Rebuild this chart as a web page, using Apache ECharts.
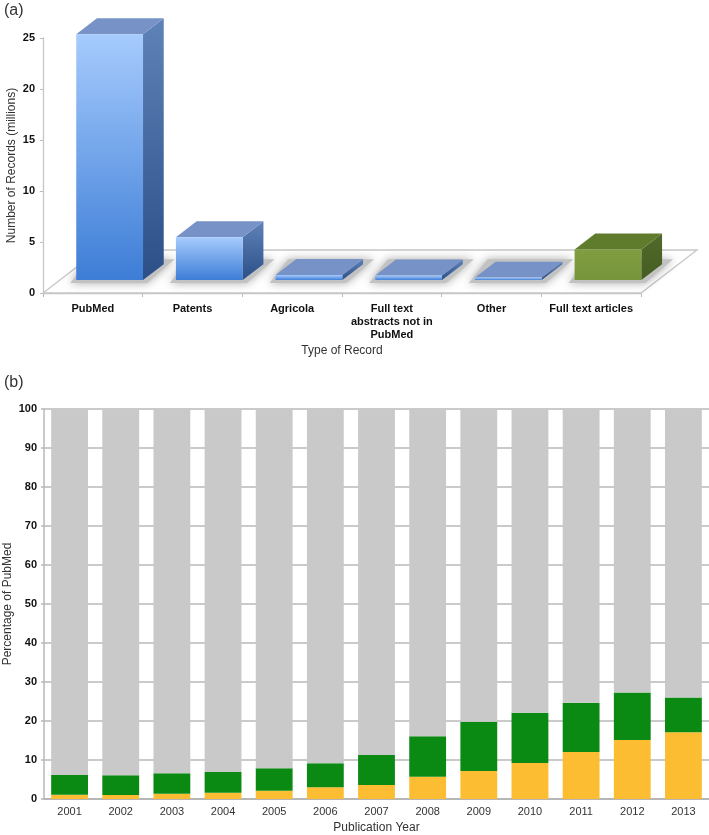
<!DOCTYPE html>
<html><head><meta charset="utf-8">
<script src="https://cdn.jsdelivr.net/npm/echarts@6/dist/echarts.min.js"></script>
<style>html,body{margin:0;padding:0;background:#fff}#c{width:709px;height:835px}</style>
</head><body><div id="c"></div>
<script>
// ---- Panel (a) data ----
const recordTypes = ['PubMed', 'Patents', 'Agricola', 'Full text\nabstracts not in\nPubMed', 'Other', 'Full text articles'];
const recordCounts = [24.1, 4.2, 0.5, 0.45, 0.25, 3.0]; // millions
const recordTicks = [0, 5, 10, 15, 20, 25];

// ---- Panel (b) data ----
const years = ['2001','2002','2003','2004','2005','2006','2007','2008','2009','2010','2011','2012','2013'];
const fullTextPct = [1.1, 1.0, 1.35, 1.6, 2.1, 3.0, 3.6, 5.7, 7.2, 9.2, 12.05, 15.1, 17.1];   // yellow
const abstractPct = [5.05, 5.1, 5.25, 5.3, 5.8, 6.15, 7.7, 10.4, 12.6, 12.9, 12.65, 12.2, 8.9]; // green
const restPct = [93.85, 93.9, 93.4, 93.1, 92.1, 90.85, 88.7, 83.9, 80.2, 77.9, 75.3, 72.7, 74.0]; // gray
const pctTicks = [0,10,20,30,40,50,60,70,80,90,100];

const FONT = '"Liberation Sans", Arial, Helvetica, sans-serif';
const chart = echarts.init(document.getElementById('c'), null, {renderer: 'canvas'});

// 3D geometry (floor depth vector and bar depth range)
const DX = 56, DY = -43, D0 = 0.3, D1 = 0.67;
const blue = {front: ['#a6cbfd', '#3d7dd6'], side: ['#5f82b9', '#2c4f88'], top: '#7692c6'};
const green = {front: ['#809e40', '#76943a'], side: ['#51692a', '#465d22'], top: '#5f7c2d'};

function grad(c) {
  return new echarts.graphic.LinearGradient(0, 0, 0, 1, [{offset: 0, color: c[0]}, {offset: 1, color: c[1]}]);
}

function barGeom(api) {
  const i = api.value(0), v = api.value(1);
  const base = api.coord([i, 0]);
  const top = api.coord([i, v]);
  const bw = api.size([1, 0])[0] * 0.67;
  const ox = D0 * DX, oy = D0 * DY;
  return {
    i: i,
    x0: base[0] - bw / 2 + ox, x1: base[0] + bw / 2 + ox,
    yb: base[1] + oy, yt: top[1] + oy,
    ddx: (D1 - D0) * DX, ddy: (D1 - D0) * DY
  };
}

function renderFloor(params, api) {
  const cs = params.coordSys;
  const x = cs.x, y = cs.y + cs.height, w = cs.width;
  return {
    type: 'polygon',
    shape: {points: [[x, y], [x + w, y], [x + w + DX, y + DY], [x + DX, y + DY]]},
    style: {fill: '#fff', stroke: '#c6c6c6', lineWidth: 1.3}
  };
}

function renderShadow(params, api) {
  const g = barGeom(api);
  const {x0, x1, yb, ddx, ddy} = g;
  return {
    type: 'polygon',
    shape: {points: [
      [x0 - 6, yb + 3], [x1 + 4, yb + 3],
      [x1 + ddx + 11, yb + ddy - 5], [x0 + ddx - 8, yb + ddy - 5]
    ]},
    style: {fill: '#c2c2c2', shadowBlur: 10, shadowColor: 'rgba(0,0,0,0.35)'}
  };
}

function renderBar(params, api) {
  const g = barGeom(api);
  const {x0, x1, yb, yt, ddx, ddy} = g;
  const pal = recordTypes[g.i] === 'Full text articles' ? green : blue;
  return {
    type: 'group',
    children: [
      {type: 'polygon', z2: 2,
        shape: {points: [[x1, yt], [x1 + ddx, yt + ddy], [x1 + ddx, yb + ddy], [x1, yb]]},
        style: {fill: grad(pal.side)}},
      {type: 'polygon', z2: 3,
        shape: {points: [[x0, yt], [x1, yt], [x1 + ddx, yt + ddy], [x0 + ddx, yt + ddy]]},
        style: {fill: pal.top}},
      {type: 'rect', z2: 4,
        shape: {x: x0, y: yt, width: x1 - x0, height: Math.max(yb - yt, 1.5)},
        style: {fill: grad(pal.front)}}
    ]
  };
}

const option = {
  animation: false,
  backgroundColor: '#fff',
  textStyle: {fontFamily: FONT},
  title: [
    {text: '(a)', left: -1, top: -2, textStyle: {fontFamily: FONT, fontSize: 16, fontWeight: 'normal', color: '#333'}},
    {text: '(b)', left: -1, top: 370, textStyle: {fontFamily: FONT, fontSize: 16, fontWeight: 'normal', color: '#333'}}
  ],
  grid: [
    {left: 43, top: 38, width: 598, height: 255, outerBoundsMode: 'none', containLabel: false},
    {left: 44, top: 409, width: 665, height: 390, outerBoundsMode: 'none', containLabel: false}
  ],
  xAxis: [
    {
      type: 'category', gridIndex: 0, data: recordTypes,
      name: 'Type of Record', nameLocation: 'middle', nameGap: 52, nameMoveOverlap: false,
      nameTextStyle: {fontFamily: FONT, fontSize: 12, color: '#333'},
      axisLine: {lineStyle: {color: '#c6c6c6', width: 1.3}},
      axisTick: {show: true, length: 4, lineStyle: {color: '#bdbdbd'}},
      axisLabel: {fontFamily: FONT, fontSize: 11, fontWeight: 'bold', color: '#111', margin: 9, lineHeight: 13, interval: 0}
    },
    {
      type: 'category', gridIndex: 1, data: years,
      name: 'Publication Year', nameLocation: 'middle', nameGap: 23, nameMoveOverlap: false,
      nameTextStyle: {fontFamily: FONT, fontSize: 12, color: '#333'},
      axisLine: {lineStyle: {color: '#b0b0b0', width: 1.5}},
      axisTick: {show: false},
      axisLabel: {fontFamily: FONT, fontSize: 11, color: '#333', margin: 7, interval: 0}
    }
  ],
  yAxis: [
    {
      type: 'value', gridIndex: 0, min: recordTicks[0], max: recordTicks[recordTicks.length - 1], interval: 5,
      name: 'Number of Records (millions)', nameLocation: 'middle', nameGap: 25, nameMoveOverlap: false,
      nameTextStyle: {fontFamily: FONT, fontSize: 12, color: '#333'},
      axisLine: {show: true, lineStyle: {color: '#c6c6c6', width: 1.3}},
      axisTick: {show: true, length: 3, lineStyle: {color: '#bdbdbd'}},
      splitLine: {show: false},
      axisLabel: {fontFamily: FONT, fontSize: 11, fontWeight: 'bold', color: '#111', margin: 8}
    },
    {
      type: 'value', gridIndex: 1, min: pctTicks[0], max: pctTicks[pctTicks.length - 1], interval: 10,
      name: 'Percentage of PubMed', nameLocation: 'middle', nameGap: 30, nameMoveOverlap: false,
      nameTextStyle: {fontFamily: FONT, fontSize: 12, color: '#333'},
      axisLine: {show: true, lineStyle: {color: '#b8b8b8', width: 1.5}},
      axisTick: {show: true, length: 3, lineStyle: {color: '#b8b8b8', width: 1.5}},
      splitLine: {show: true, lineStyle: {color: '#b8b8b8', width: 1.5}},
      axisLabel: {fontFamily: FONT, fontSize: 11, fontWeight: 'bold', color: '#111', margin: 7}
    }
  ],
  series: [
    {
      type: 'custom', xAxisIndex: 0, yAxisIndex: 0, z: 1, silent: true,
      renderItem: renderFloor, data: [[0, 0]], encode: {x: 0, y: 1}
    },
    {
      type: 'custom', xAxisIndex: 0, yAxisIndex: 0, z: 2, clip: false, silent: true,
      renderItem: renderShadow,
      data: recordCounts.map((v, i) => [i, v]),
      encode: {x: 0, y: 1}
    },
    {
      type: 'custom', xAxisIndex: 0, yAxisIndex: 0, z: 3, clip: false,
      renderItem: renderBar,
      data: recordCounts.map((v, i) => [i, v]),
      encode: {x: 0, y: 1}
    },
    {
      type: 'bar', xAxisIndex: 1, yAxisIndex: 1, stack: 'pct', barWidth: '72%',
      data: fullTextPct, itemStyle: {color: '#fdbd33'}
    },
    {
      type: 'bar', xAxisIndex: 1, yAxisIndex: 1, stack: 'pct', barWidth: '72%',
      data: abstractPct, itemStyle: {color: '#0b8a13'}
    },
    {
      type: 'bar', xAxisIndex: 1, yAxisIndex: 1, stack: 'pct', barWidth: '72%',
      data: restPct, itemStyle: {color: '#c9c9c9'}
    }
  ]
};
chart.setOption(option);
</script>
</body></html>
